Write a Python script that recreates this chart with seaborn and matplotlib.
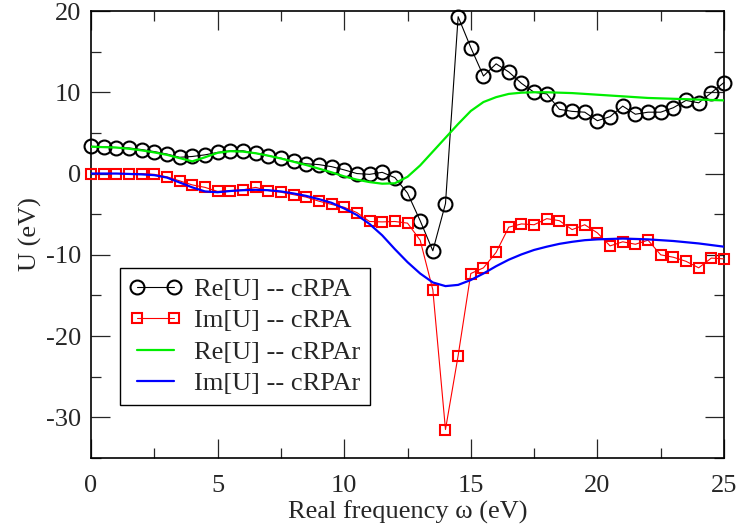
import numpy as np
import pandas as pd
import matplotlib
matplotlib.use("Agg")
import matplotlib.pyplot as plt
import seaborn as sns
from matplotlib.ticker import MultipleLocator

freq = [0.0, 0.5, 1.0, 1.5, 2.0, 2.5, 3.0, 3.5, 4.0, 4.5,
        5.0, 5.5, 6.0, 6.5, 7.0, 7.5, 8.0, 8.5, 9.0, 9.5,
        10.0, 10.5, 11.0, 11.5, 12.0, 12.5, 13.0, 13.5, 14.0, 14.5,
        15.0, 15.5, 16.0, 16.5, 17.0, 17.5, 18.0, 18.5, 19.0, 19.5,
        20.0, 20.5, 21.0, 21.5, 22.0, 22.5, 23.0, 23.5, 24.0, 24.5, 25.0]

re_crpa = [3.35, 3.3, 3.2, 3.15, 2.95, 2.7, 2.4, 2.0, 2.1, 2.3,
           2.6, 2.8, 2.8, 2.5, 2.2, 1.9, 1.5, 1.2, 1.1, 0.85,
           0.45, 0.0, -0.1, 0.15, -0.5, -2.4, -5.8, -9.5, -3.7, 19.3,
           15.5, 12.0, 13.5, 12.5, 11.1, 10.0, 9.8, 7.9, 7.65, 7.55,
           6.5, 7.0, 8.3, 7.3, 7.55, 7.55, 8.1, 9.0, 8.7, 9.95, 11.2]

im_crpa = [0.0, 0.0, 0.0, 0.0, 0.0, -0.1, -0.4, -0.9, -1.4, -1.7,
           -2.2, -2.1, -2.0, -1.7, -2.1, -2.3, -2.6, -2.9, -3.4, -3.8,
           -4.15, -4.8, -5.9, -5.95, -5.9, -6.1, -8.2, -14.3, -31.5, -22.4,
           -12.3, -11.6, -9.7, -6.6, -6.2, -6.3, -5.55, -5.8, -6.9, -6.3,
           -7.3, -8.9, -8.4, -8.7, -8.2, -10.0, -10.3, -10.8, -11.6, -10.4, -10.5]

re_crpar = [3.3, 3.25, 3.2, 3.05, 2.85, 2.6, 2.3, 1.9, 1.5, 2.0,
            2.55, 2.75, 2.7, 2.5, 2.2, 1.85, 1.45, 1.05, 0.6, 0.15,
            -0.35, -0.75, -1.05, -1.25, -1.2, -0.4, 1.0, 2.7, 4.4, 6.1,
            7.7, 8.8, 9.4, 9.8, 9.95, 10.0, 10.0, 9.95, 9.9, 9.8,
            9.7, 9.6, 9.5, 9.4, 9.3, 9.25, 9.2, 9.15, 9.1, 9.05, 9.0]

im_crpar = [0.0, 0.0, 0.0, -0.05, -0.1, -0.2, -0.5, -1.1, -1.7, -2.2,
            -2.3, -2.15, -2.05, -2.0, -2.05, -2.2, -2.45, -2.75, -3.15, -3.6,
            -4.3, -5.1, -6.2, -7.6, -9.3, -10.9, -12.3, -13.4, -13.85, -13.7,
            -13.1, -12.3, -11.4, -10.6, -9.95, -9.4, -9.0, -8.65, -8.4, -8.2,
            -8.1, -8.05, -8.0, -8.05, -8.1, -8.2, -8.3, -8.45, -8.6, -8.8, -9.0]

labels = ["Re[U] -- cRPA", "Im[U] -- cRPA", "Re[U] -- cRPAr", "Im[U] -- cRPAr"]
x_ticks = [0, 5, 10, 15, 20, 25]
y_ticks = [-30, -20, -10, 0, 10, 20]

df = pd.DataFrame({"w": freq, "re_crpa": re_crpa, "im_crpa": im_crpa,
                   "re_crpar": re_crpar, "im_crpar": im_crpar})

sns.set_style("ticks")
plt.rcParams["font.family"] = ["Liberation Serif", "DejaVu Serif"]
plt.rcParams["axes.unicode_minus"] = False

fig = plt.figure(figsize=(7.39, 5.26), dpi=100)
ax = fig.add_axes([91/739, 1-458/526, (724-91)/739, (458-11)/526])

sns.lineplot(data=df, x="w", y="re_crpa", ax=ax, color="black", lw=0.8,
             marker="o", ms=10, mfc="none", mec="black", mew=1.5, label=labels[0],
             clip_on=False, zorder=3)
sns.lineplot(data=df, x="w", y="im_crpa", ax=ax, color="#ff0000", lw=0.8,
             marker="s", ms=7.5, mfc="none", mec="#ff0000", mew=1.5, label=labels[1],
             clip_on=False, zorder=3)
sns.lineplot(data=df, x="w", y="re_crpar", ax=ax, color="#00ee00", lw=1.6, label=labels[2],
             zorder=4)
sns.lineplot(data=df, x="w", y="im_crpar", ax=ax, color="#0000ff", lw=1.6, label=labels[3],
             zorder=4)

ax.set_xlim(0, 25)
ax.set_ylim(-35, 20)
ax.set_xticks(x_ticks)
ax.set_yticks(y_ticks)
ax.xaxis.set_minor_locator(MultipleLocator(2.5))
ax.yaxis.set_minor_locator(MultipleLocator(5))
ax.tick_params(which="both", direction="in", top=True, right=True, width=0.9, labelsize=19)
ax.tick_params(which="major", length=14)
ax.tick_params(which="minor", length=7)
ax.tick_params(axis="x", pad=12.5)
ax.tick_params(axis="y", pad=7)
for s in ax.spines.values():
    s.set_linewidth(1.2)
    s.set_color("black")

ax.set_xlabel("Real frequency ω (eV)", fontsize=19, labelpad=2)
ax.set_ylabel("U (eV)", fontsize=19, labelpad=3)

leg = ax.legend(loc="upper left", bbox_to_anchor=((120-91)/633, (458-268)/447),
                borderaxespad=0, fontsize=19, frameon=True, fancybox=False,
                edgecolor="black", framealpha=1, handlelength=2.0, handletextpad=0.44,
                labelspacing=0.3, borderpad=0.36, numpoints=2)
leg.get_frame().set_linewidth(1.0)
leg.set_zorder(10)

fig.savefig("out.png", dpi=100)
